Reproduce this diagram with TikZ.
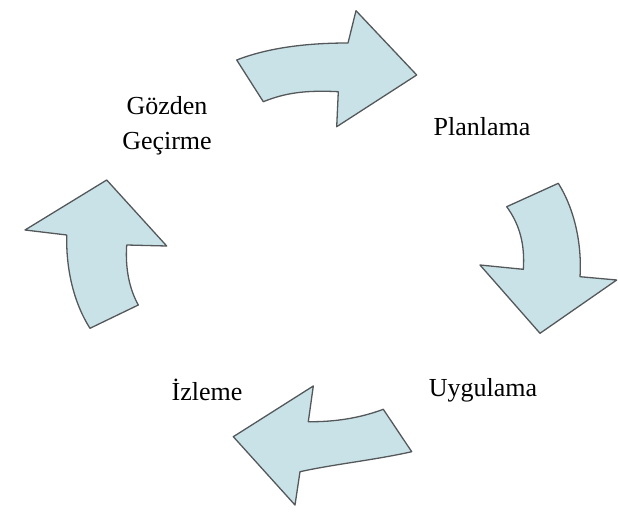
\documentclass[tikz,border=0pt]{standalone}
\usepackage{fontspec}
\setmainfont{Liberation Serif}
\usepackage{xcolor}
\usepackage{tikz}
\definecolor{arrowfill}{RGB}{200,226,232}
\definecolor{arrowline}{RGB}{85,88,90}

\begin{document}
\begin{tikzpicture}[x=1pt,y=-1pt,
  blockarrow/.style={fill=arrowfill,draw=arrowline,line width=1.3pt,line join=round},
  stage/.style={font=\fontsize{26}{35}\selectfont,align=center,inner sep=0pt}]
  \useasboundingbox (0,0) rectangle (618,511);
  % top: towards Planlama
  \draw[blockarrow] (236.7,60) .. controls (270,47) and (310,43) .. (348,43)
    -- (356,10.7) -- (416.7,75) -- (336.7,126.7) -- (338.3,91.7)
    .. controls (305,90) and (285,93) .. (263.3,101.7) -- cycle;
  % right: towards Uygulama
  \draw[blockarrow] (506.7,206.7) -- (558.3,183.3)
    .. controls (575,210) and (582,245) .. (580,276.7)
    -- (616.7,280) -- (540,333.3) -- (480,265) -- (523.3,269.3)
    .. controls (525,245) and (520,225) .. cycle;
  % bottom: towards Izleme
  \draw[blockarrow] (313.3,386) -- (308.3,421.7)
    .. controls (335,422) and (360,418) .. (383.3,409.3)
    -- (411.7,451.7) .. controls (375,460) and (335,464) .. (300,471.7)
    -- (295,505) -- (233.3,436.7) -- cycle;
  % left: towards Gozden Gecirme
  \draw[blockarrow] (106.7,180) -- (166.7,246) -- (126.7,245)
    .. controls (125,270) and (130,290) .. (138.3,305)
    -- (90,328.3) .. controls (72,300) and (66,265) .. (66.7,235)
    -- (25,230) -- cycle;
  \node[stage] (review) at (167,126) {Gözden\\Geçirme};
  \node[stage] (plan) at (482,127) {Planlama};
  \node[stage] (do) at (483,390) {Uygulama};
  \node[stage] (watch) at (207,390) {İzleme};
\end{tikzpicture}
\end{document}
